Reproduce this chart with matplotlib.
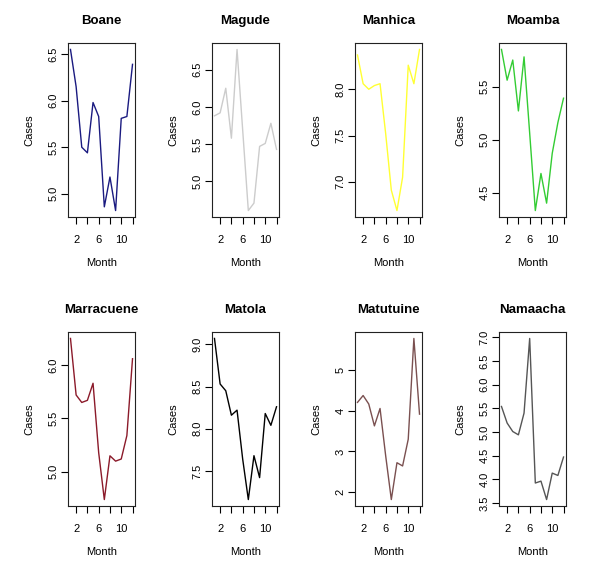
import matplotlib
matplotlib.use("Agg")
import matplotlib.pyplot as plt

plt.rcParams['font.family'] = ['Liberation Sans', 'DejaVu Sans']

months = list(range(1, 13))

districts = ["Boane", "Magude", "Manhica", "Moamba",
             "Marracuene", "Matola", "Matutuine", "Namaacha"]

boane = [6.55, 6.15, 5.50, 5.44, 5.98, 5.83, 4.86, 5.18, 4.82, 5.81, 5.83, 6.39]
magude = [5.88, 5.92, 6.25, 5.58, 6.77, 5.69, 4.61, 4.71, 5.47, 5.51, 5.78, 5.43]
manhica = [8.37, 8.06, 8.00, 8.04, 8.06, 7.52, 6.91, 6.69, 7.05, 8.26, 8.06, 8.43]
moamba = [5.85, 5.56, 5.75, 5.27, 5.78, 5.06, 4.33, 4.68, 4.40, 4.87, 5.16, 5.39]
marracuene = [6.25, 5.72, 5.65, 5.67, 5.83, 5.18, 4.74, 5.15, 5.10, 5.12, 5.34, 6.06]
matola = [9.07, 8.53, 8.45, 8.16, 8.22, 7.64, 7.16, 7.68, 7.42, 8.18, 8.04, 8.26]
matutuine = [4.21, 4.38, 4.17, 3.63, 4.06, 2.89, 1.81, 2.72, 2.64, 3.30, 5.79, 3.92]
namaacha = [5.54, 5.19, 5.01, 4.94, 5.40, 6.98, 3.92, 3.96, 3.57, 4.13, 4.08, 4.47]

series = [boane, magude, manhica, moamba, marracuene, matola, matutuine, namaacha]

colors = ["#1a1a80", "#cccccc", "#ffff33", "#33cc33",
          "#8b1a2a", "#000000", "#7a5050", "#555555"]

yticks = [
    [5.0, 5.5, 6.0, 6.5],
    [5.0, 5.5, 6.0, 6.5],
    [7.0, 7.5, 8.0],
    [4.5, 5.0, 5.5],
    [5.0, 5.5, 6.0],
    [7.5, 8.0, 8.5, 9.0],
    [2, 3, 4, 5],
    [3.5, 4.0, 4.5, 5.0, 5.5, 6.0, 6.5, 7.0],
]
xticks = [2, 4, 6, 8, 10, 12]
xticklabels = ["2", "", "6", "", "10", ""]

fig = plt.figure(figsize=(6.0, 5.65), dpi=100)

W, H = 600.0, 565.0
lefts = [68, 212, 355, 499]
tops = [43, 332]
aw, ah = 67, 174

for i, name in enumerate(districts):
    row, col = divmod(i, 4)
    left = lefts[col] / W
    bottom = (H - tops[row] - ah) / H
    ax = fig.add_axes([left, bottom, aw / W, ah / H])
    ax.plot(months, series[i], color=colors[i], linewidth=1.0)
    ax.margins(x=0.04, y=0.04)

    ax.set_xticks(xticks)
    ax.set_xticklabels(xticklabels)
    ax.set_yticks(yticks[i])
    if i == 6:
        ax.set_yticklabels([str(v) for v in yticks[i]])
    else:
        ax.set_yticklabels(["%.1f" % v for v in yticks[i]])
    for lab in ax.get_yticklabels():
        lab.set_rotation(90)
        lab.set_va("center")

    ax.tick_params(axis="x", length=5, width=0.8, pad=8, labelsize=8)
    ax.tick_params(axis="y", length=5, width=0.8, pad=2, labelsize=8)
    for sp in ax.spines.values():
        sp.set_linewidth(0.8)
        sp.set_color("#222222")

    ax.set_xlabel("Month", fontsize=8)
    ax.set_ylabel("Cases", fontsize=8)
    ax.xaxis.set_label_coords(0.5, -41 / ah)
    ax.yaxis.set_label_coords(-34 / aw, 0.5)
    ax.text(0.5, 1 + 22 / ah, name, transform=ax.transAxes,
            ha="center", va="center", fontsize=9.5, fontweight="bold")

fig.savefig("out.png", dpi=100, facecolor="white")
